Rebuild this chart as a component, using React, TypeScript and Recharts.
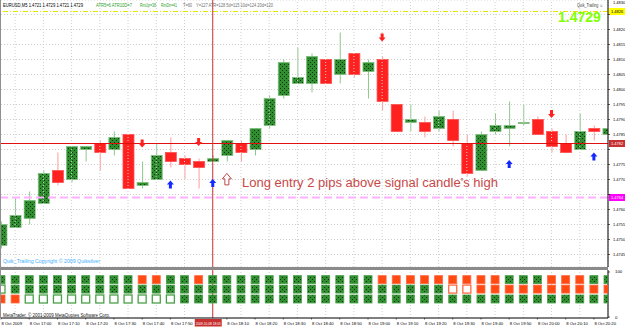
import React from "react";
import {
  ComposedChart,
  Bar,
  Scatter,
  XAxis,
  YAxis,
  CartesianGrid,
  ReferenceLine,
} from "recharts";

// EURUSD M5, 8 Oct 2009, candles from 16:50 to 20:25
const opens = [1.4748, 1.4754, 1.4757, 1.4762, 1.4773, 1.477, 1.478, 1.4782, 1.478, 1.4785, 1.4768, 1.477, 1.4779, 1.4777, 1.4776, 1.4776, 1.4778, 1.4782, 1.478, 1.4788, 1.4798, 1.4802, 1.4802, 1.481, 1.4805, 1.4812, 1.4806, 1.481, 1.4795, 1.4789, 1.4789, 1.4787, 1.479, 1.4782, 1.4773, 1.4786, 1.4787, 1.4789, 1.479, 1.4786, 1.4782, 1.478, 1.4787, 1.4785];
const highs = [1.4756, 1.4764, 1.4766, 1.4773, 1.4779, 1.4781, 1.4781, 1.4783, 1.4786, 1.4785, 1.4776, 1.4782, 1.4784, 1.4778, 1.4777, 1.4778, 1.4783, 1.4783, 1.4787, 1.4798, 1.481, 1.4814, 1.4812, 1.481, 1.4819, 1.4812, 1.481, 1.4811, 1.4795, 1.4795, 1.4791, 1.4793, 1.4793, 1.4785, 1.4786, 1.4792, 1.4796, 1.4795, 1.4791, 1.4787, 1.4785, 1.4792, 1.4788, 1.4793];
const lows = [1.4747, 1.4754, 1.4755, 1.4762, 1.4768, 1.4769, 1.4776, 1.4773, 1.4778, 1.4767, 1.4767, 1.477, 1.4774, 1.477, 1.4767, 1.4776, 1.4776, 1.4776, 1.4778, 1.4787, 1.4797, 1.4802, 1.4799, 1.4802, 1.4802, 1.4804, 1.4797, 1.4793, 1.4786, 1.4786, 1.4784, 1.4786, 1.4781, 1.4771, 1.4773, 1.4785, 1.4781, 1.4788, 1.4785, 1.4779, 1.4779, 1.478, 1.4783, 1.4785];
const closes = [1.4755, 1.4758, 1.4763, 1.4772, 1.4769, 1.4781, 1.4781, 1.4779, 1.4784, 1.4767, 1.4769, 1.4778, 1.4776, 1.4775, 1.4774, 1.4777, 1.4783, 1.4779, 1.4787, 1.4797, 1.4809, 1.4804, 1.4811, 1.4802, 1.481, 1.4805, 1.4809, 1.4796, 1.4786, 1.479, 1.4786, 1.4791, 1.4783, 1.4772, 1.4785, 1.4788, 1.4788, 1.4789, 1.4785, 1.4781, 1.4779, 1.4786, 1.4786, 1.4787];

// signal arrows: candle index + price level
const sellSignals = [
  { i: 10, v: 1.4782 },
  { i: 14, v: 1.47825 },
  { i: 27, v: 1.48173 },
  { i: 39, v: 1.47918 },
];
const buySignals = [
  { i: 12, v: 1.47683 },
  { i: 15, v: 1.47688 },
  { i: 36, v: 1.47752 },
  { i: 42, v: 1.47777 },
];
const entrySignal = [{ i: 16, v: 1.47702 }];

const stopLine = 1.4782;
const lowLine = 1.4764;
const highLine = 1.4826;
const markerIdx = 15;

const priceTicks = [1.4745, 1.475, 1.4755, 1.476, 1.4765, 1.477, 1.4775, 1.478, 1.4785, 1.479, 1.4795, 1.48, 1.4805, 1.481, 1.4815, 1.482, 1.4825, 1.483];
// labels hidden behind the line tags on the price scale
const hiddenPriceLabels = [1.478, 1.4765, 1.4825];

const timeLabels = ["8 Oct 2009", "8 Oct 17:00", "8 Oct 17:10", "8 Oct 17:20", "8 Oct 17:30", "8 Oct 17:40", "8 Oct 17:50", "8 Oct 18:00", "8 Oct 18:10", "8 Oct 18:20", "8 Oct 18:30", "8 Oct 18:40", "8 Oct 18:50", "8 Oct 19:00", "8 Oct 19:10", "8 Oct 19:20", "8 Oct 19:30", "8 Oct 19:40", "8 Oct 19:50", "8 Oct 20:00", "8 Oct 20:10", "8 Oct 20:20"];
const markerTime = "2009.10.08 18:05";

// Quik_Trailing state rows: g = up, o = down, h = hollow up, q = hollow down
const rowTop = "gggggggggg" + "oo" + "gg" + "o" + "gggggggggggg" + "ooooooooo" + "ggg" + "ooo" + "gg";
const rowMid = "h" + "ggggggggggggggggggggggggggggggg" + "qq" + "oooooooooo";
const rowLow = "oo" + "hhhhhhhhhhh" + "ggggggggggggggggggggggggggggggg";
const rowLevels = [83, 62, 40];

const candles = opens.map((o, i) => ({
  i,
  open: o,
  high: highs[i],
  low: lows[i],
  close: closes[i],
  range: [lows[i], highs[i]],
}));

const FONT = "Liberation Sans, Arial, sans-serif";
const xDomain: [number, number] = [0, opens.length - 1];
const labelKs = timeLabels.map((_, m) => m * 2);
const gridKs = timeLabels.map((_, m) => m * 2 + 1);

function Candle(props: any) {
  const { x, y, width, height, payload } = props;
  if (!payload) return null;
  const { open, close, high, low } = payload;
  const px = (v: number) => y + ((high - v) / (high - low)) * height;
  const bull = close >= open;
  const cx = x + width / 2;
  const top = px(Math.max(open, close));
  const bot = px(Math.min(open, close));
  const h = Math.max(1, bot - top);
  return (
    <g>
      <line x1={cx} x2={cx} y1={y} y2={y + height} stroke={bull ? "#8cc88c" : "#ff9c9c"} strokeWidth={1} />
      <rect
        x={x}
        y={top}
        width={width}
        height={h}
        fill={bull ? "url(#qdots)" : "#ff2020"}
        stroke={bull ? "#7fbf7f" : "#ff5050"}
        strokeWidth={0.8}
      />
    </g>
  );
}

function DownArrow(props: any) {
  const { cx, cy } = props;
  return <path d={`M${cx - 1.5},${cy - 4} h3 v4 h2 l-3.5,4 l-3.5,-4 h2 z`} fill="#ff2020" />;
}

function UpArrow(props: any) {
  const { cx, cy } = props;
  return <path d={`M${cx - 1.5},${cy + 4} h3 v-4 h2 l-3.5,-4 l-3.5,4 h2 z`} fill="#1428ff" />;
}

function EntryArrow(props: any) {
  const { cx, cy } = props;
  return (
    <path
      d={`M${cx - 2},${cy + 6} h4 v-6 h2.5 l-4.5,-5.5 l-4.5,5.5 h2.5 z`}
      fill="#fff"
      stroke="#c04848"
      strokeWidth={1}
    />
  );
}

function StateSquare(props: any) {
  const { cx, cy, payload } = props;
  const s = payload.s;
  const fill = s === "g" ? "url(#qdots)" : s === "o" ? "#ff4a14" : "#fff";
  const stroke = s === "g" || s === "h" ? "#4aa04a" : "#ff6a40";
  return <rect x={cx - 4} y={cy - 4} width={8} height={8} fill={fill} stroke={stroke} strokeWidth={s === "h" || s === "q" ? 1.3 : 0.8} />;
}

const priceTag = (value: number, bg: string, fg: string) => (p: any) => {
  const vb = p.viewBox;
  if (!vb) return null;
  const x = vb.x + vb.width + 1;
  const y = vb.y;
  return (
    <g>
      <rect x={x} y={y - 3.5} width={16} height={7} fill={bg} />
      <text x={x + 2} y={y + 1.5} fontSize={4} fill={fg} fontFamily={FONT}>
        {value.toFixed(4)}
      </text>
    </g>
  );
};

const timeTag = (p: any) => {
  const vb = p.viewBox;
  if (!vb) return null;
  const x = vb.x;
  const y = vb.y + vb.height;
  return (
    <g>
      <rect x={x - 18} y={y + 1} width={27} height={7.5} fill="#c83030" />
      <text x={x - 17} y={y + 6.5} fontSize={4} fill="#fff" fontFamily={FONT} textLength={25} lengthAdjust="spacingAndGlyphs">
        {markerTime}
      </text>
    </g>
  );
};

function PriceTick(props: any) {
  const { x, y, payload } = props;
  if (hiddenPriceLabels.includes(payload.value)) return null;
  // keep the topmost label inside the window
  const base = Math.max(y + 1.5, 4);
  return (
    <text x={x + 1} y={base} fontSize={4} fill="#000" fontFamily={FONT}>
      {Number(payload.value).toFixed(4)}
    </text>
  );
}

function LevelTick(props: any) {
  const { x, y, payload } = props;
  return (
    <text x={x + 3} y={y + 1.5} fontSize={4.3} fill="#000" fontFamily={FONT}>
      {payload.value}
    </text>
  );
}

function TimeTick(props: any) {
  const { x, y, payload } = props;
  // the 18:00 label sits under the marker time tag
  if (payload.value === markerIdx - 1) return null;
  const label = timeLabels[payload.value / 2];
  return (
    <g>
      <line x1={x} x2={x} y1={y} y2={y + 1.5} stroke="#000" strokeWidth={0.6} />
      <text x={x + 0.5} y={y + 6.8} fontSize={4.2} fill="#000" fontFamily={FONT}>
        {label}
      </text>
    </g>
  );
}

const rowData = [rowTop, rowMid, rowLow].map((row, r) =>
  row.split("").map((s, i) => ({ i, v: rowLevels[r], s }))
);

const hdr = { fontSize: 4.5, lengthAdjust: "spacingAndGlyphs" } as const;

export default function App() {
  return (
    <div
      style={{
        position: "absolute",
        left: 0,
        top: 0,
        width: 625,
        height: 327,
        background: "#fff",
        overflow: "hidden",
        fontFamily: FONT,
      }}
    >
      <svg width={0} height={0} style={{ position: "absolute" }}>
        <defs>
          <pattern id="qdots" width={4} height={4} patternUnits="userSpaceOnUse">
            <rect width={4} height={4} fill="#2f8f2f" />
            <rect x={0} y={0} width={1} height={1} fill="#0c2e0c" />
            <rect x={2} y={2} width={1} height={1} fill="#0c2e0c" />
          </pattern>
        </defs>
      </svg>

      <div style={{ position: "absolute", left: 0, top: 0 }}>
        <ComposedChart width={625} height={267} data={candles} margin={{ top: 0, right: 0, bottom: 0, left: 1 }}>
          <CartesianGrid vertical={false} stroke="#cfcfcf" strokeDasharray="1 2" />
          <XAxis hide type="number" dataKey="i" domain={xDomain} allowDataOverflow />
          <YAxis
            orientation="right"
            width={17}
            domain={[1.474083, 1.482983]}
            allowDataOverflow
            ticks={priceTicks}
            interval={0}
            tick={PriceTick}
            tickSize={2}
            tickLine={{ stroke: "#000", strokeWidth: 0.6 }}
            axisLine={{ stroke: "#000" }}
          />
          {gridKs.map((k) => (
            <ReferenceLine key={"g" + k} x={k} stroke="#cfcfcf" strokeDasharray="1 2" />
          ))}
          <ReferenceLine y={highLine} stroke="#e6e600" strokeDasharray="5 2 1 2" label={priceTag(highLine, "#ffff00", "#000")} />
          <ReferenceLine y={lowLine} stroke="#ffb0ff" strokeWidth={2} strokeDasharray="8 4" label={priceTag(lowLine, "#ff00ff", "#fff")} />
          <Bar dataKey="range" barSize={11} shape={Candle} isAnimationActive={false} />
          <ReferenceLine y={stopLine} stroke="#e01010" strokeWidth={1.2} label={priceTag(stopLine, "#c83030", "#fff")} />
          <ReferenceLine x={markerIdx} stroke="#cc3333" />
          <Scatter data={sellSignals} dataKey="v" shape={DownArrow} isAnimationActive={false} />
          <Scatter data={buySignals} dataKey="v" shape={UpArrow} isAnimationActive={false} />
          <Scatter data={entrySignal} dataKey="v" shape={EntryArrow} isAnimationActive={false} />
        </ComposedChart>
      </div>

      <div style={{ position: "absolute", left: 0, top: 267 }}>
        <ComposedChart width={625} height={60} margin={{ top: 3, right: 0, bottom: 0, left: 1 }}>
          <XAxis
            type="number"
            dataKey="i"
            domain={xDomain}
            allowDataOverflow
            ticks={labelKs}
            interval={0}
            height={9}
            tickSize={0}
            tickMargin={0}
            tick={TimeTick}
            axisLine={{ stroke: "#000" }}
            tickLine={false}
          />
          <YAxis
            orientation="right"
            width={17}
            domain={[-2.2, 104.4]}
            allowDataOverflow
            ticks={[0, 100]}
            interval={0}
            tick={LevelTick}
            tickSize={2}
            tickLine={{ stroke: "#000", strokeWidth: 0.6 }}
            axisLine={{ stroke: "#000" }}
          />
          {gridKs.map((k) => (
            <ReferenceLine key={"b" + k} x={k} stroke="#cfcfcf" strokeDasharray="1 2" />
          ))}
          {rowData.map((d, r) => (
            <Scatter key={r} data={d} dataKey="v" shape={StateSquare} isAnimationActive={false} />
          ))}
          <ReferenceLine x={markerIdx} stroke="#cc3333" label={timeTag} />
        </ComposedChart>
      </div>

      <svg width={625} height={327} style={{ position: "absolute", left: 0, top: 0, pointerEvents: "none" }} fontFamily={FONT}>
        <rect x={0} y={267} width={608} height={3} fill="#8a8a8a" />
        <line x1={0.5} x2={0.5} y1={0} y2={318} stroke="#909090" />
        <text x={3} y={7} {...hdr} textLength={80} fill="#000">EURUSD,M5  1.4721 1.4729 1.4721 1.4729</text>
        <text x={96} y={7} {...hdr} textLength={36} fill="#2ea02e">ATR5=6  ATR10D=7</text>
        <text x={140} y={7} {...hdr} textLength={16} fill="#2ea02e">RmUp=38</text>
        <text x={161} y={7} {...hdr} textLength={16} fill="#2ea02e">RmDn=41</text>
        <text x={183} y={7} {...hdr} textLength={9} fill="#707070">T=60</text>
        <text x={196} y={7} {...hdr} textLength={77} fill="#707070">Y=127  ATR=128  5d=115  10d=124  20d=120</text>
        <text x={577} y={7} {...hdr} textLength={26} fill="#404040">Quik_Trailing ☺</text>
        <text x={558} y={22} fontSize={14} fontWeight="bold" fill="#80ff00">1.4729</text>
        <text x={242} y={187} fontSize={12.3} fill="#c84848" textLength={256} lengthAdjust="spacingAndGlyphs">Long entry 2 pips above signal candle's high</text>
        <text x={3} y={263} {...hdr} textLength={97} fill="#3cb0ff">Quik_Trailing  Copyright © 2009  Quiksilver</text>
        <text x={3} y={316.5} {...hdr} textLength={107} fill="#202020">MetaTrader, © 2001-2009 MetaQuotes Software Corp.</text>
      </svg>
    </div>
  );
}
